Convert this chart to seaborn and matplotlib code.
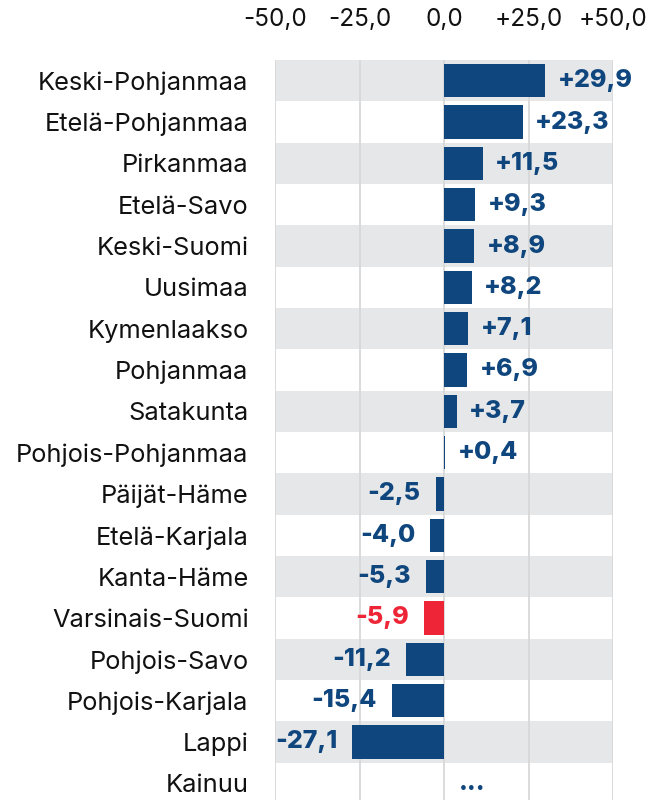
import matplotlib.pyplot as plt
import numpy as np
import pandas as pd
import seaborn as sns

regions = ['Keski-Pohjanmaa', 'Etelä-Pohjanmaa', 'Pirkanmaa', 'Etelä-Savo',
           'Keski-Suomi', 'Uusimaa', 'Kymenlaakso', 'Pohjanmaa', 'Satakunta',
           'Pohjois-Pohjanmaa', 'Päijät-Häme', 'Etelä-Karjala', 'Kanta-Häme',
           'Varsinais-Suomi', 'Pohjois-Savo', 'Pohjois-Karjala', 'Lappi', 'Kainuu']
values = [29.9, 23.3, 11.5, 9.3, 8.9, 8.2, 7.1, 6.9, 3.7,
          0.4, -2.5, -4.0, -5.3, -5.9, -11.2, -15.4, -27.1, np.nan]
highlight = 'Varsinais-Suomi'
ticks = [-50, -25, 0, 25, 50]
tick_labels = ['-50,0', '-25,0', '0,0', '+25,0', '+50,0']

blue = '#0f467e'
red = '#ee2536'

df = pd.DataFrame({'region': regions, 'value': values})
palette = {r: (red if r == highlight else blue) for r in regions}

sns.set_style('white')
plt.rcParams['font.family'] = ['Inter', 'DejaVu Sans']

fig = plt.figure(figsize=(6.57, 8), dpi=100)
ax = fig.add_axes([275 / 657, -0.005, (613 - 275) / 657, 0.93])

# alternating row bands
for i in range(len(regions)):
    if i % 2 == 0:
        ax.axhspan(i - 0.5, i + 0.5, color='#e6e7e8', zorder=0, lw=0)
for t in ticks:
    ax.axvline(t, color='#d8d8d8', lw=1.3, zorder=1)

sns.barplot(data=df, x='value', y='region', hue='region', palette=palette,
            orient='h', width=0.8, saturation=1, linewidth=0,
            legend=False, ax=ax, zorder=2)

for i, v in enumerate(values):
    col = red if regions[i] == highlight else blue
    if np.isnan(v):
        ax.annotate('...', (0, i), xytext=(11, 0), textcoords='offset points',
                    ha='left', va='center', fontsize=18, fontweight=800, color=col)
        continue
    txt = f'{v:+.1f}'.replace('.', ',')
    off = 9 if v >= 0 else -11
    ax.annotate(txt, (v, i), xytext=(off, 0), textcoords='offset points',
                ha='left' if v >= 0 else 'right', va='center',
                fontsize=18, fontweight=800, color=col,
                annotation_clip=False)

ax.set_xlim(-50, 50)
ax.set_ylim(len(regions) - 0.5, -0.5)
ax.xaxis.tick_top()
ax.set_xticks(ticks)
ax.set_xticklabels(tick_labels, fontsize=17.5, color='#111111')
ax.tick_params(axis='x', length=0, pad=21)
ax.tick_params(axis='y', length=0, pad=19, labelsize=18.3, labelcolor='#111111')
ax.set_xlabel('')
ax.set_ylabel('')
for s in ax.spines.values():
    s.set_visible(False)

fig.savefig('out.png', dpi=100)
